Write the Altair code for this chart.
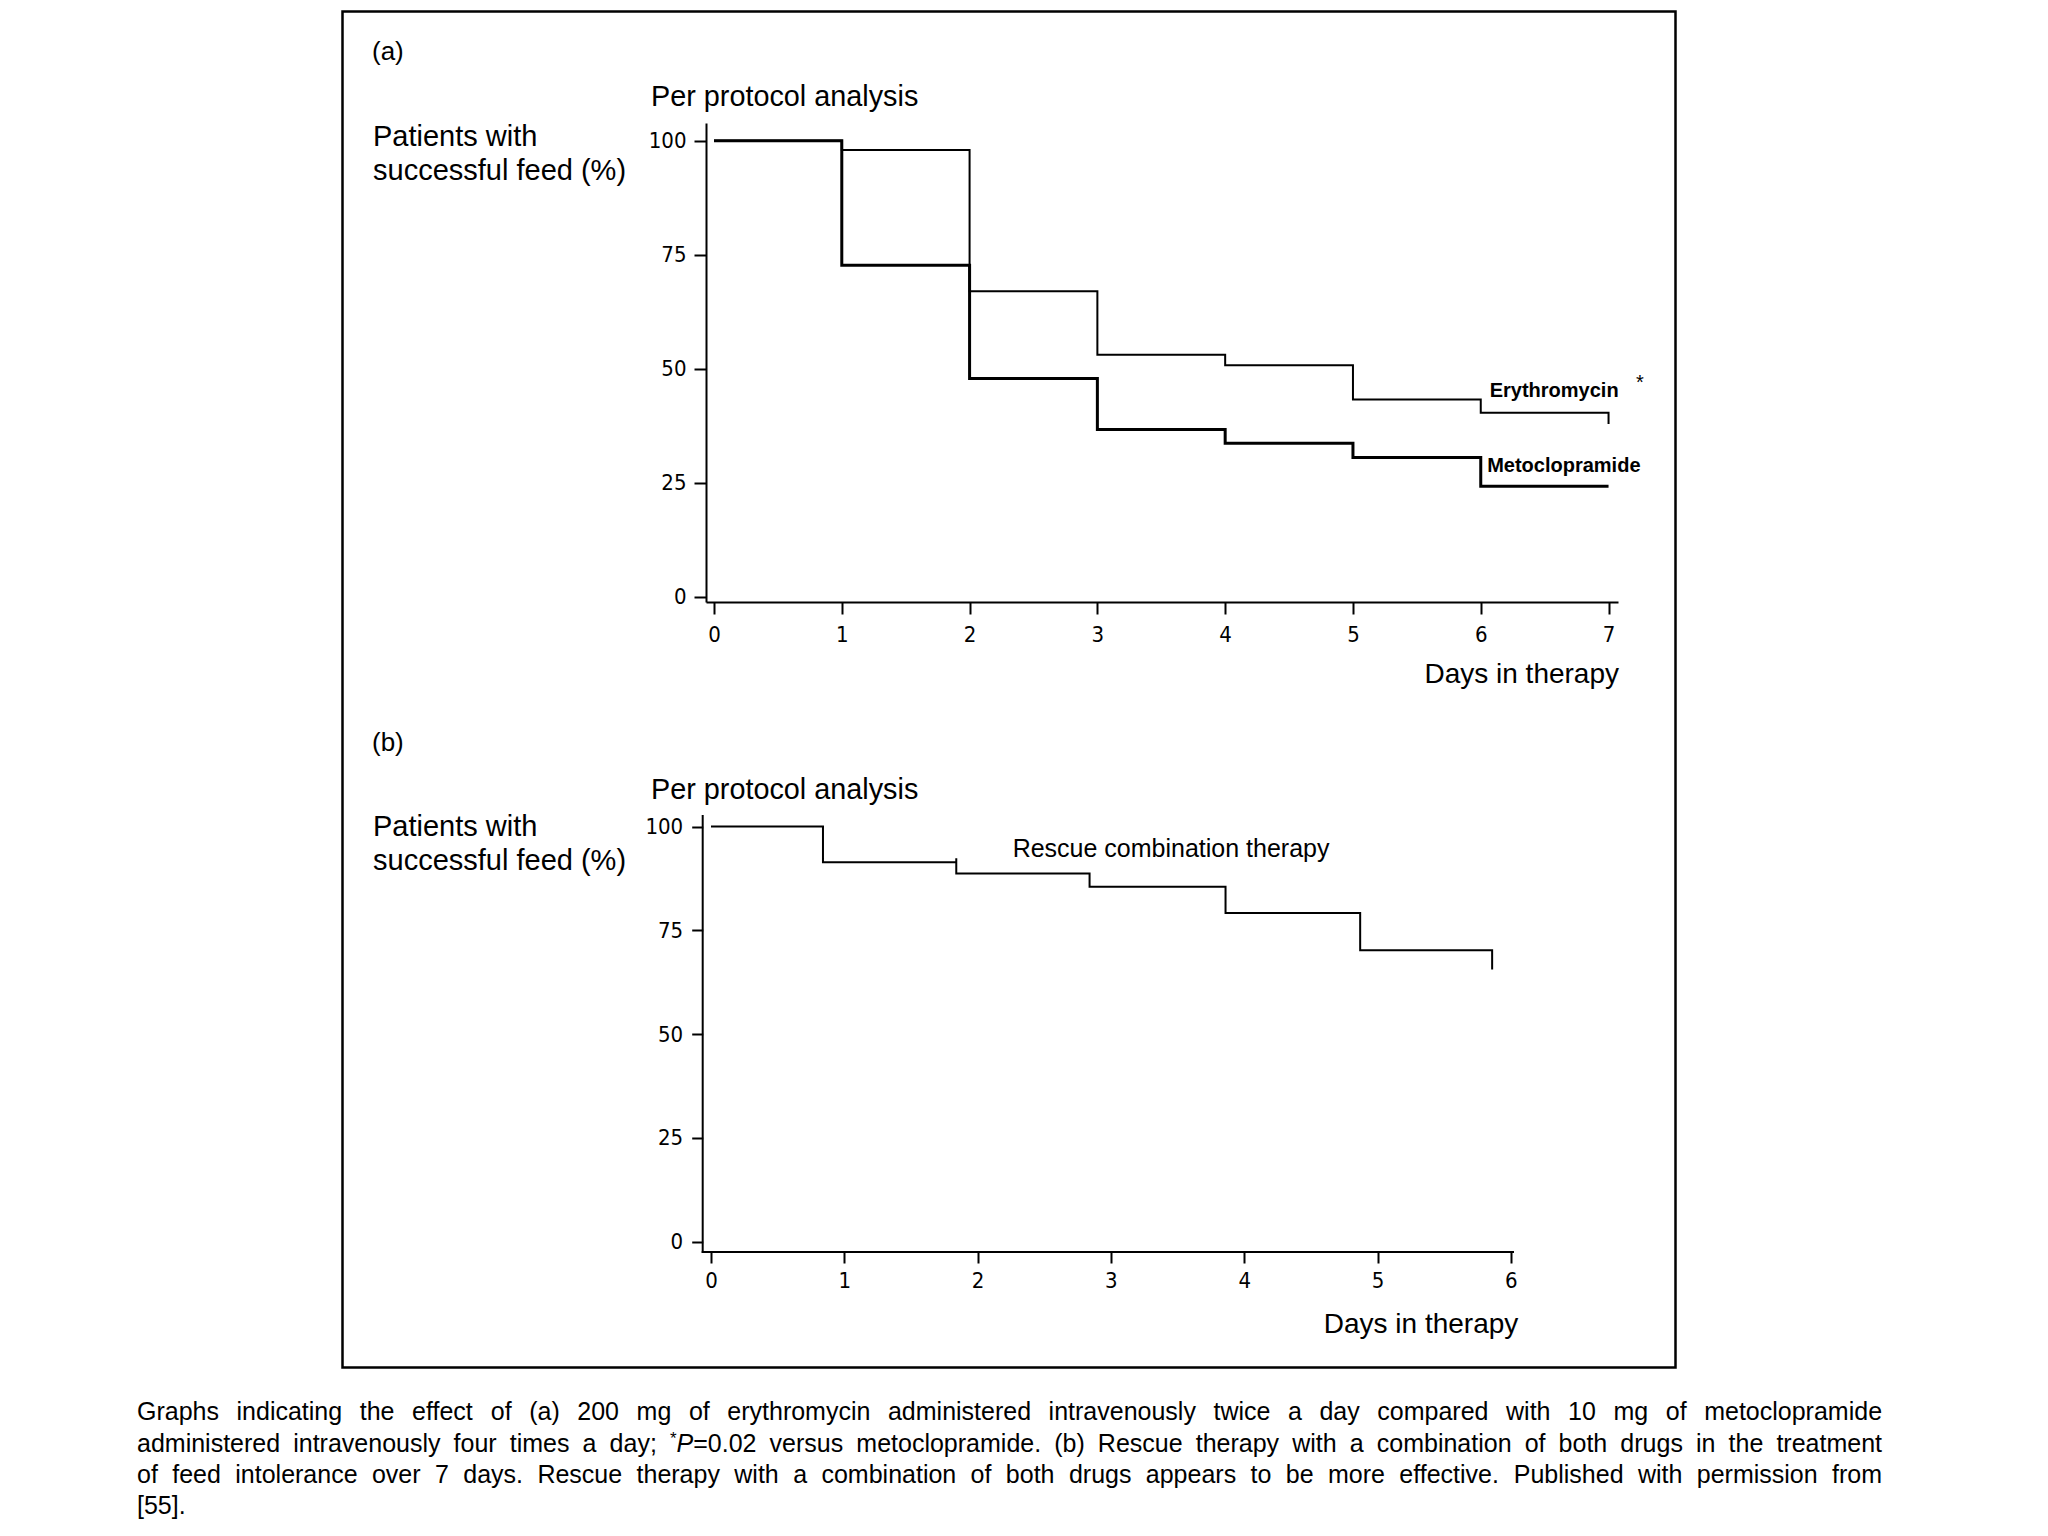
import altair as alt
import pandas as pd

# ---------------- values ----------------
# (a) Per protocol analysis: Kaplan-Meier style step curves (% patients with successful feed)
ERY_DAY = [0, 1, 2, 3, 4, 5, 6, 7, 7]
ERY_PCT = [100, 98.0, 67.0, 53.1, 50.8, 43.3, 40.4, 40.4, 37.9]
MET_DAY = [0, 1, 2, 3, 4, 5, 6, 7]
MET_PCT = [100, 72.7, 47.9, 36.7, 33.7, 30.6, 24.3, 24.3]
# (b) Rescue combination therapy
RES_DAY = [0, 0.84, 1.84, 1.84, 2.84, 3.86, 4.87, 5.86, 5.86]
RES_PCT = [100, 91.4, 92.4, 88.7, 85.5, 79.2, 70.2, 70.2, 65.6]

A_X_TICKS = [0, 1, 2, 3, 4, 5, 6, 7]
B_X_TICKS = [0, 1, 2, 3, 4, 5, 6]
Y_TICKS = [0, 25, 50, 75, 100]

A_LABELS = ["Erythromycin", "Metoclopramide"]
A_LABEL_DAY = [6.07, 6.05]
A_LABEL_PCT = [43.8, 27.5]
STAR_DAY, STAR_PCT = [7.214], [45.7]
B_LABELS = ["Rescue combination therapy"]
B_LABEL_DAY = [2.263]
B_LABEL_PCT = [92.6]

PANEL_A = "(a)"
PANEL_B = "(b)"
SUBTITLE = "Per protocol analysis"
YTITLE = ["Patients with", "successful feed (%)"]
XTITLE = "Days in therapy"

CAPTION = [
    "Graphs indicating the effect of (a) 200 mg of erythromycin administered intravenously twice a day compared with 10 mg of metoclopramide",
    "administered intravenously four times a day; *P=0.02 versus metoclopramide. (b) Rescue therapy with a combination of both drugs in the treatment",
    "of feed intolerance over 7 days. Rescue therapy with a combination of both drugs appears to be more effective. Published with permission from",
    "[55].",
]

# ---------------- styling ----------------
FONT = "Liberation Sans, Arial, Helvetica, sans-serif"
NARROW = "Liberation Sans Narrow, Arial Narrow, DejaVu Sans Condensed, Liberation Sans, sans-serif"

A_W, A_H = 912, 479          # plot area of panel (a)
B_W, B_H = 808, 437          # plot area of panel (b)
GAP = 213                    # vertical gap between plot areas
A_LEFT, A_TOP = 706, 123     # page position of panel (a) plot area
B_TOP = A_TOP + A_H + GAP
C_TOP = B_TOP + B_H + GAP

ONE = pd.DataFrame({"k": [0]})


def txt(t, x, y, size, align="left", weight="normal", font=FONT):
    return alt.Chart(ONE).mark_text(
        text=t, align=align, baseline="alphabetic", font=font,
        fontSize=size, fontWeight=weight, color="black"
    ).encode(x=alt.value(x), y=alt.value(y))


ax = dict(grid=False, title=None, domainColor="black", domainWidth=2,
          tickColor="black", tickWidth=2, labelColor="black", labelFont=NARROW,
          labelFontSize=22, labelFlush=False, labelOverlap=False, zindex=1)

# ---------------- panel (a) ----------------
xA = alt.X("day:Q", scale=alt.Scale(domain=[-0.0626, 7.074], nice=False, zero=False),
           axis=alt.Axis(values=A_X_TICKS, tickSize=12, labelPadding=10, **ax))
yA = alt.Y("pct:Q", scale=alt.Scale(domain=[-1.1, 103.9], nice=False, zero=False),
           axis=alt.Axis(values=Y_TICKS, tickSize=12, labelPadding=8, **ax))

dfE = pd.DataFrame({"day": ERY_DAY, "pct": ERY_PCT, "i": range(len(ERY_DAY))})
dfM = pd.DataFrame({"day": MET_DAY, "pct": MET_PCT, "i": range(len(MET_DAY))})
dfLA = pd.DataFrame({"day": A_LABEL_DAY, "pct": A_LABEL_PCT, "label": A_LABELS})
dfStar = pd.DataFrame({"day": STAR_DAY, "pct": STAR_PCT, "label": ["*"]})

bg = alt.Chart(ONE).mark_rect(color="white", strokeWidth=0).encode(
    x=alt.value(8 - A_LEFT), x2=alt.value(2040 - A_LEFT),
    y=alt.value(8 - A_TOP), y2=alt.value(1528 - A_TOP))
frame = alt.Chart(ONE).mark_rect(fillOpacity=0, stroke="black", strokeWidth=2.5).encode(
    x=alt.value(342.5 - A_LEFT), x2=alt.value(1675.5 - A_LEFT),
    y=alt.value(11.5 - A_TOP), y2=alt.value(1367.5 - A_TOP))

lineE = alt.Chart(dfE).mark_line(interpolate="step-after", color="black", strokeWidth=2,
                                 strokeJoin="miter").encode(x=xA, y=yA, order="i:Q")
lineM = alt.Chart(dfM).mark_line(interpolate="step-after", color="black", strokeWidth=3,
                                 strokeJoin="miter").encode(x=xA, y=yA, order="i:Q")
labA = alt.Chart(dfLA).mark_text(align="left", baseline="alphabetic", font=FONT, fontSize=20,
                                 fontWeight="bold", color="black").encode(x=xA, y=yA, text="label:N")
star = alt.Chart(dfStar).mark_text(align="left", baseline="alphabetic", font=FONT, fontSize=20,
                                   color="black").encode(x=xA, y=yA, text="label:N")

panelA = alt.layer(
    bg, frame, lineE, lineM, labA, star,
    txt(PANEL_A, 372 - A_LEFT, 60 - A_TOP, 26),
    txt(SUBTITLE, 651 - A_LEFT, 105.5 - A_TOP, 28.8),
    txt(YTITLE[0], 373 - A_LEFT, 146 - A_TOP, 29),
    txt(YTITLE[1], 373 - A_LEFT, 180 - A_TOP, 29),
    txt(XTITLE, 1619 - A_LEFT, 682.7 - A_TOP, 28, align="right"),
).properties(width=A_W, height=A_H)

# ---------------- panel (b) ----------------
B_AXIS_SHIFT = 3.3
xB = alt.X("day:Q", scale=alt.Scale(domain=[-0.0375, 6.024], nice=False, zero=False),
           axis=alt.Axis(values=B_X_TICKS, tickSize=11, labelPadding=7, domain=False, **ax))
yB = alt.Y("pct:Q", scale=alt.Scale(domain=[-2.5, 102.8], nice=False, zero=False),
           axis=alt.Axis(values=Y_TICKS, tickSize=11, labelPadding=9, domain=False,
                         offset=B_AXIS_SHIFT, **ax))

dfR = pd.DataFrame({"day": RES_DAY, "pct": RES_PCT, "i": range(len(RES_DAY))})
dfLB = pd.DataFrame({"day": B_LABEL_DAY, "pct": B_LABEL_PCT, "label": B_LABELS})

lineR = alt.Chart(dfR).mark_line(interpolate="step-after", color="black", strokeWidth=2,
                                 strokeJoin="miter").encode(x=xB, y=yB, order="i:Q")
labB = alt.Chart(dfLB).mark_text(align="left", baseline="alphabetic", font=FONT, fontSize=25,
                                 color="black").encode(x=xB, y=yB, text="label:N")
yline = alt.Chart(ONE).mark_rule(color="black", strokeWidth=2).encode(
    x=alt.value(-B_AXIS_SHIFT), y=alt.value(0), y2=alt.value(B_H + 1))
xline = alt.Chart(ONE).mark_rule(color="black", strokeWidth=2).encode(
    x=alt.value(-B_AXIS_SHIFT - 1), x2=alt.value(B_W), y=alt.value(B_H))

panelB = alt.layer(
    lineR, labB, yline, xline,
    txt(PANEL_B, 372 - A_LEFT, 751 - B_TOP, 26),
    txt(SUBTITLE, 651 - A_LEFT, 799 - B_TOP, 28.8),
    txt(YTITLE[0], 373 - A_LEFT, 835.5 - B_TOP, 29),
    txt(YTITLE[1], 373 - A_LEFT, 869.5 - B_TOP, 29),
    txt(XTITLE, 1518.3 - A_LEFT, 1332.7 - B_TOP, 28, align="right"),
).properties(width=B_W, height=B_H)

# ---------------- caption (justified, word by word) ----------------
AW = {" ": 278, "a": 556, "b": 556, "c": 500, "d": 556, "e": 556, "f": 278, "g": 556,
      "h": 556, "i": 222, "j": 222, "k": 500, "l": 222, "m": 833, "n": 556, "o": 556,
      "p": 556, "q": 556, "r": 333, "s": 500, "t": 278, "u": 556, "v": 500, "w": 722,
      "x": 500, "y": 500, "z": 500, "G": 778, "P": 667, "R": 722, "(": 333, ")": 333,
      ";": 278, ".": 278, ",": 278, "=": 584, "*": 389, "[": 278, "]": 278}
for d in "0123456789":
    AW[d] = 556

CAP_SIZE, SUP_SIZE = 25, 17
CAP_L, CAP_R = 137, 1882
CAP_BASE = [1420, 1452, 1483, 1514]


def tw(s, size):
    return sum(AW.get(c, 556) for c in s) * size / 1000.0


rows = []
for li, line in enumerate(CAPTION):
    words = []
    for w in line.split(" "):
        if w.startswith("*P"):
            words.append([("*", "sup"), ("P", "ital"), (w[2:], "norm")])
        else:
            words.append([(w, "norm")])
    wwidth = [sum(tw(t, SUP_SIZE if s == "sup" else CAP_SIZE) for t, s in w) for w in words]
    if li < len(CAPTION) - 1 and len(words) > 1:
        gap = (CAP_R - CAP_L - sum(wwidth)) / (len(words) - 1)
    else:
        gap = tw(" ", CAP_SIZE)
    x = CAP_L
    for w, ww in zip(words, wwidth):
        px = x
        for t, s in w:
            rows.append({"px": px - A_LEFT,
                         "py": CAP_BASE[li] - C_TOP - (8 if s == "sup" else 0),
                         "txt": t, "style": s})
            px += tw(t, SUP_SIZE if s == "sup" else CAP_SIZE)
        x += ww + gap
cap = pd.DataFrame(rows)


def cap_layer(style, size, fstyle):
    return alt.Chart(cap).transform_filter(alt.datum.style == style).mark_text(
        align="left", baseline="alphabetic", font=FONT, fontSize=size,
        fontStyle=fstyle, color="black"
    ).encode(x=alt.X("px:Q", scale=None), y=alt.Y("py:Q", scale=None), text="txt:N")


panelC = alt.layer(
    cap_layer("norm", CAP_SIZE, "normal"),
    cap_layer("ital", CAP_SIZE, "italic"),
    cap_layer("sup", SUP_SIZE, "normal"),
).properties(width=10, height=10)

chart = alt.vconcat(panelA, panelB, panelC, spacing=GAP, bounds="flush").properties(
    padding=0, background="white"
).configure_view(stroke="transparent", strokeWidth=0)

chart.save("out.html", embed_options={"renderer": "svg", "actions": False})
